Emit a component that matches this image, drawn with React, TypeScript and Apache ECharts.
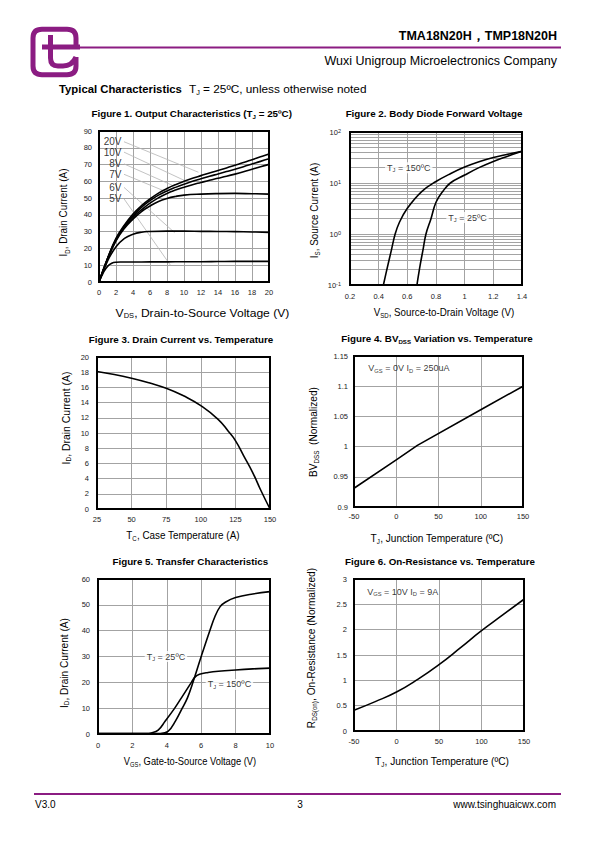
import React, { useEffect, useRef } from "react";
import * as echarts from "echarts";

const FONT = "'Liberation Sans', Arial, Helvetica, sans-serif";
const PURPLE = "#8b1c82";
const GRID_COLOR = "#a3a3a3";

// ---------- Figure 1: Output characteristics ----------
const f1Labels = ["20V", "10V", "8V", "7V", "6V", "5V"];
const f1Vgs20 = [[0, 0], [1, 14], [2, 26], [3, 34], [4, 40.5], [5, 45.5], [6, 49.5], [7, 53], [8, 55.7], [9, 58], [10, 60], [11, 61.8], [12, 63.4], [13, 65], [14, 66.5], [15, 68], [16, 69.6], [17, 71.2], [18, 72.9], [19, 74.6], [20, 76.3]];
const f1Vgs10 = [[0, 0], [1, 14], [2, 25.5], [3, 33.5], [4, 39.5], [5, 44.5], [6, 48.5], [7, 51.8], [8, 54.3], [9, 56.4], [10, 58.3], [11, 60], [12, 61.5], [13, 63], [14, 64.4], [15, 65.8], [16, 67.2], [17, 68.7], [18, 70.3], [19, 71.9], [20, 73.4]];
const f1Vgs8 = [[0, 0], [1, 13.7], [2, 25], [3, 32.7], [4, 38.5], [5, 43], [6, 47], [7, 50.2], [8, 52.8], [9, 54.8], [10, 56.5], [11, 58], [12, 59.3], [13, 60.6], [14, 61.8], [15, 63], [16, 64.3], [17, 65.7], [18, 67.2], [19, 68.7], [20, 70.1]];
const f1Vgs7 = [[0, 0], [1, 13.5], [2, 24.5], [3, 32], [4, 37.5], [5, 42], [6, 45.3], [7, 48], [8, 49.8], [9, 51], [10, 51.8], [12, 52.4], [14, 52.7], [16, 52.8], [18, 52.6], [20, 52.4]];
const f1Vgs6 = [[0, 0], [1, 12.5], [2, 21], [3, 26], [4, 28.5], [5, 29.7], [6, 30.1], [8, 30.3], [10, 30.3], [12, 30.2], [14, 30.1], [16, 30], [18, 29.8], [20, 29.6]];
const f1Vgs5 = [[0, 0], [0.5, 5.5], [1, 9.3], [1.5, 11.2], [2, 11.8], [2.5, 11.9], [4, 11.9], [6, 12], [8, 12], [10, 12.1], [12, 12.1], [14, 12.2], [16, 12.3], [18, 12.3], [20, 12.3]];
const f1Curves = [f1Vgs20, f1Vgs10, f1Vgs8, f1Vgs7, f1Vgs6, f1Vgs5];
const f1LeaderStart = [[2.94, 83.6], [2.94, 77.4], [2.94, 70.4], [2.94, 64.2], [2.94, 56.4], [2.94, 49.6]];
const f1LeaderEnd = [[11.7, 65.4], [10.1, 60.4], [8.9, 57], [7.8, 54], [8.9, 29.4], [8.4, 10]];

// ---------- Figure 2: Body diode forward voltage ----------
const f2Tj150 = [[0.433, 0.1], [0.457, 0.2], [0.49, 0.5], [0.515, 1.0], [0.545, 1.7], [0.6, 3.2], [0.7, 6.8], [0.8, 10.7], [0.9, 15.2], [1.0, 20.5], [1.1, 26], [1.2, 31.5], [1.3, 36.5], [1.4, 42]];
const f2Tj25 = [[0.667, 0.1], [0.69, 0.25], [0.71, 0.5], [0.73, 1.0], [0.765, 2.0], [0.8, 4.2], [0.85, 7], [0.9, 10], [1.0, 14.3], [1.1, 20], [1.2, 26.5], [1.3, 33.5], [1.4, 42]];
const f2Notes = ["T{s|J} = 150ºC", "T{s|J} = 25ºC"];
const f2NotePos = [[0.61, 20], [1.02, 2.1]];

// ---------- Figure 3: Drain current vs temperature ----------
const f3Curve = [[25, 18.1], [37.5, 17.7], [50, 17.2], [62.5, 16.6], [75, 15.9], [87.5, 14.9], [100, 13.6], [112.5, 11.8], [120, 10.2], [125, 9], [131, 7], [137.5, 4.8], [143, 2.6], [150, 0]];

// ---------- Figure 4: BVdss vs temperature ----------
const f4Curve = [[-50, 0.931], [0, 0.978], [25, 1.002], [100, 1.061], [150, 1.1]];
const f4Note = "V{s|GS} = 0V I{s|D} = 250uA";
const f4NotePos = [-36, 1.13];

// ---------- Figure 5: Transfer characteristics ----------
const f5Tj25 = [[0, 0.15], [3, 0.15], [3.6, 0.2], [4.07, 1], [4.5, 5], [4.9, 10], [5.2, 14], [5.52, 20], [6, 30], [6.5, 40], [6.8, 45.5], [7.1, 49.3], [7.4, 51], [8, 52.8], [9, 54.2], [10, 55.1]];
const f5Tj150 = [[0, 0.15], [2.8, 0.15], [3.1, 0.4], [3.5, 1.5], [3.9, 4.9], [4.46, 10], [4.85, 14], [5.43, 20], [5.65, 22.1], [5.9, 23.1], [6.4, 23.8], [7, 24.3], [8, 24.8], [9, 25.2], [10, 25.5]];
const f5Notes = ["T{s|J} = 25ºC", "T{s|J} = 150ºC"];
const f5NotePos = [[3.95, 30], [7.64, 19.2]];

// ---------- Figure 6: On-resistance vs temperature ----------
const f6Curve = [[-50, 0.41], [-25, 0.58], [0, 0.77], [25, 1.02], [50, 1.31], [75, 1.64], [100, 1.98], [125, 2.29], [150, 2.6]];
const f6Note = "V{s|GS} = 10V I{s|D} = 9A";
const f6NotePos = [-37.4, 2.75];

// ---------- Layout ----------
const GRIDS = [
  { left: 99, top: 131, width: 170, height: 151 },
  { left: 350, top: 132, width: 172, height: 153 },
  { left: 97, top: 357, width: 173, height: 152 },
  { left: 354, top: 356, width: 169, height: 151 },
  { left: 98, top: 579, width: 172, height: 155 },
  { left: 354, top: 579, width: 170, height: 152 },
];

const LOGO_PATH =
  "M76 47 L76 38 Q76 29.3 67 29.3 L42 29.3 Q33 29.3 33 38 L33 66 Q33 74.7 42 74.7 L67 74.7 Q76 74.7 76 66 L76 57 " +
  "M50.5 35 L50.5 58 Q50.5 66 58 66 L63 66 Q72 66 76 57 M42 47 L80 47";

const subStyle = (size: number, bold = false) => ({
  fontSize: Math.round(size * 0.62 * 10) / 10,
  fontFamily: FONT,
  fontWeight: bold ? "bold" : "normal",
  fill: "#000",
  color: "#000",
  verticalAlign: "bottom",
  lineHeight: size * 0.7,
});

const txt = (x: number, y: number, text: string, size: number, o: any = {}) => ({
  type: "text",
  x,
  y,
  rotation: o.rot || 0,
  scaleX: o.sx || 1,
  z: 50,
  silent: true,
  style: {
    text,
    fontSize: size,
    fontFamily: FONT,
    fontWeight: o.bold ? "bold" : "normal",
    fill: o.color || "#000",
    align: o.align || "center",
    verticalAlign: "middle",
    lineHeight: size * 1.25,
    rich: { s: subStyle(size, o.bold) },
  },
});

const tickLabel = (margin: number) => ({ fontSize: 7.5, color: "#222", fontFamily: FONT, margin });

const axis = (gi: number, min: number, max: number, interval: number, margin: number) => ({
  type: "value",
  gridIndex: gi,
  min,
  max,
  interval,
  axisLine: { show: false },
  axisTick: { show: false },
  axisLabel: tickLabel(margin),
  splitLine: { show: true, lineStyle: { color: GRID_COLOR, width: 1 } },
});

const curve = (i: number, data: number[][], smooth: number | boolean = 0.5) => ({
  type: "line",
  xAxisIndex: i,
  yAxisIndex: i,
  data,
  symbol: "none",
  showSymbol: false,
  smooth,
  silent: true,
  z: 3,
  lineStyle: { color: "#000", width: 1.6, join: "round" },
});

const note = (i: number, pos: number[], text: string, position: string, bg: string | undefined) => ({
  type: "scatter",
  xAxisIndex: i,
  yAxisIndex: i,
  symbolSize: 1,
  silent: true,
  z: 6,
  itemStyle: { color: "transparent" },
  data: [{ value: pos }],
  label: {
    show: true,
    position,
    distance: 0,
    formatter: text,
    fontSize: 9,
    fontFamily: FONT,
    color: "#000",
    lineHeight: 11,
    backgroundColor: bg,
    padding: [0, 2, 0, 2],
    rich: { s: { fontSize: 5.8, fontFamily: FONT, color: "#000", verticalAlign: "bottom", lineHeight: 6 } },
  },
});

function buildOption() {
  const series: any[] = [];
  // Figure 1 leaders + labels
  f1Labels.forEach((lab, k) => {
    series.push({
      type: "line",
      xAxisIndex: 0,
      yAxisIndex: 0,
      data: [f1LeaderStart[k], f1LeaderEnd[k]],
      symbol: "none",
      silent: true,
      z: 2,
      lineStyle: { color: "#b4b4b4", width: 0.8 },
    });
    series.push({
      type: "scatter",
      xAxisIndex: 0,
      yAxisIndex: 0,
      symbolSize: 1,
      silent: true,
      z: 6,
      itemStyle: { color: "transparent" },
      data: [{ value: f1LeaderStart[k] }],
      label: { show: true, position: "left", distance: 2, formatter: lab, fontSize: 10, fontFamily: FONT, color: "#000" },
    });
  });
  f1Curves.forEach((c) => series.push(curve(0, c, 0.45)));
  // Figure 2
  series.push(curve(1, f2Tj150, 0.4));
  series.push(curve(1, f2Tj25, 0.4));
  f2Notes.forEach((t, k) => series.push(note(1, f2NotePos[k], t, "inside", "#fff")));
  // Figure 3
  series.push(curve(2, f3Curve, 0.5));
  // Figure 4
  series.push(curve(3, f4Curve, false));
  series.push(note(3, f4NotePos, f4Note, "right", undefined));
  // Figure 5
  series.push(curve(4, f5Tj25, 0.4));
  series.push(curve(4, f5Tj150, 0.4));
  f5Notes.forEach((t, k) => series.push(note(4, f5NotePos[k], t, "inside", "#fff")));
  // Figure 6
  series.push(curve(5, f6Curve, 0.5));
  series.push(note(5, f6NotePos, f6Note, "right", undefined));

  const xAxis = [
    axis(0, 0, 20, 2, 6),
    axis(1, 0.2, 1.4, 0.2, 7),
    axis(2, 25, 150, 25, 6),
    axis(3, -50, 150, 50, 5),
    axis(4, 0, 10, 2, 7),
    axis(5, -50, 150, 50, 6),
  ];
  const logAxis: any = {
    type: "log",
    logBase: 10,
    gridIndex: 1,
    min: 0.1,
    max: 100,
    axisLine: { show: false },
    axisTick: { show: false },
    minorTick: { show: false, splitNumber: 9 },
    minorSplitLine: { show: true, lineStyle: { color: GRID_COLOR, width: 1 } },
    splitLine: { show: true, lineStyle: { color: GRID_COLOR, width: 1 } },
    axisLabel: {
      ...tickLabel(9),
      formatter: (v: number) => "10{sup|" + Math.round(Math.log10(v)) + "}",
      rich: { sup: { fontSize: 5.5, fontFamily: FONT, color: "#222", verticalAlign: "top", lineHeight: 6 } },
    },
  };
  const yAxis = [
    axis(0, 0, 90, 10, 7),
    logAxis,
    axis(2, 0, 20, 2, 8),
    axis(3, 0.9, 1.15, 0.05, 6),
    axis(4, 0, 60, 10, 8),
    axis(5, 0, 3, 0.5, 7),
  ];

  const frames = GRIDS.map((g) => ({
    type: "rect",
    z: 100,
    silent: true,
    shape: { x: g.left, y: g.top, width: g.width, height: g.height },
    style: { fill: "none", stroke: "#000", lineWidth: 2 },
  }));

  const R = Math.PI / 2;
  const graphic: any[] = [
    // header
    { type: "logo", x: 0, y: 0, z: 40, silent: true, style: { fill: "none", stroke: PURPLE, lineWidth: 5 } },
    { type: "line", z: 40, silent: true, shape: { x1: 80, y1: 47.5, x2: 561, y2: 47.5 }, style: { stroke: PURPLE, lineWidth: 2 } },
    txt(557, 36, "TMA18N20H，TMP18N20H", 12.5, { bold: true, align: "right" }),
    txt(557, 61, "Wuxi Unigroup Microelectronics Company", 12.5, { align: "right" }),
    txt(59, 88.5, "Typical Characteristics", 11.3, { bold: true, align: "left" }),
    txt(189, 88.5, "T{s|J} = 25ºC, unless otherwise noted", 11.8, { align: "left" }),
    // figure titles
    txt(191.7, 113, "Figure 1. Output Characteristics (T{s|J} = 25ºC)", 9.8, { bold: true }),
    txt(434, 113, "Figure 2. Body Diode Forward Voltage", 9.8, { bold: true }),
    txt(181, 339, "Figure 3. Drain Current vs. Temperature", 9.8, { bold: true }),
    txt(437, 338.5, "Figure 4. BV{s|DSS} Variation vs. Temperature", 9.8, { bold: true }),
    txt(190.3, 561, "Figure 5. Transfer Characteristics", 9.8, { bold: true }),
    txt(440, 561, "Figure 6. On-Resistance vs. Temperature", 9.8, { bold: true }),
    // axis titles
    txt(202.5, 313, "V{s|DS}, Drain-to-Source Voltage (V)", 11, { sx: 1.1 }),
    txt(63.5, 212.5, "I{s|D}, Drain Current (A)", 11, { rot: R, sx: 0.9 }),
    txt(444, 312, "V{s|SD}, Source-to-Drain Voltage (V)", 11, { sx: 0.89 }),
    txt(314, 210.5, "I{s|S}, Source Current (A)", 11, { rot: R, sx: 0.9 }),
    txt(183, 535, "T{s|C}, Case Temperature (A)", 11, { sx: 0.9 }),
    txt(65.5, 418, "I{s|D}, Drain Current (A)", 11, { rot: R, sx: 0.95 }),
    txt(437, 538, "T{s|J}, Junction Temperature (ºC)", 11, { sx: 0.92 }),
    txt(313, 432, "BV{s|DSS}  (Normalized)", 11, { rot: R, sx: 0.92 }),
    txt(190, 761, "V{s|GS}, Gate-to-Source Voltage (V)", 11, { sx: 0.85 }),
    txt(63.5, 663, "I{s|D}, Drain Current (A)", 11, { rot: R, sx: 0.92 }),
    txt(442, 761, "T{s|J}, Junction Temperature (ºC)", 11, { sx: 0.93 }),
    txt(311, 648, "R{s|DS(on)}, On-Resistance (Normalized)", 11, { rot: R, sx: 0.92 }),
    // footer
    { type: "line", z: 40, silent: true, shape: { x1: 34, y1: 794, x2: 561, y2: 794 }, style: { stroke: PURPLE, lineWidth: 2 } },
    txt(35, 804, "V3.0", 10, { align: "left" }),
    txt(300, 804, "3", 10),
    txt(556, 804, "www.tsinghuaicwx.com", 10, { align: "right" }),
    ...frames,
  ];

  return {
    animation: false,
    backgroundColor: "#fff",
    textStyle: { fontFamily: FONT },
    grid: GRIDS.map((g) => ({ ...g, containLabel: false })),
    xAxis,
    yAxis,
    series,
    graphic,
  };
}

export default function App() {
  const ref = useRef<HTMLDivElement>(null);
  useEffect(() => {
    if (!ref.current) return;
    try {
      echarts.graphic.registerShape("logo", echarts.graphic.extendPath(LOGO_PATH, {}));
    } catch (e) {
      // already registered
    }
    const chart = echarts.init(ref.current, null, { renderer: "svg", width: 595, height: 842 });
    chart.setOption(buildOption() as any);
    return () => chart.dispose();
  }, []);
  return (
    <div
      ref={ref}
      style={{ position: "absolute", left: 0, top: 0, width: 595, height: 842, background: "#fff" }}
    />
  );
}
